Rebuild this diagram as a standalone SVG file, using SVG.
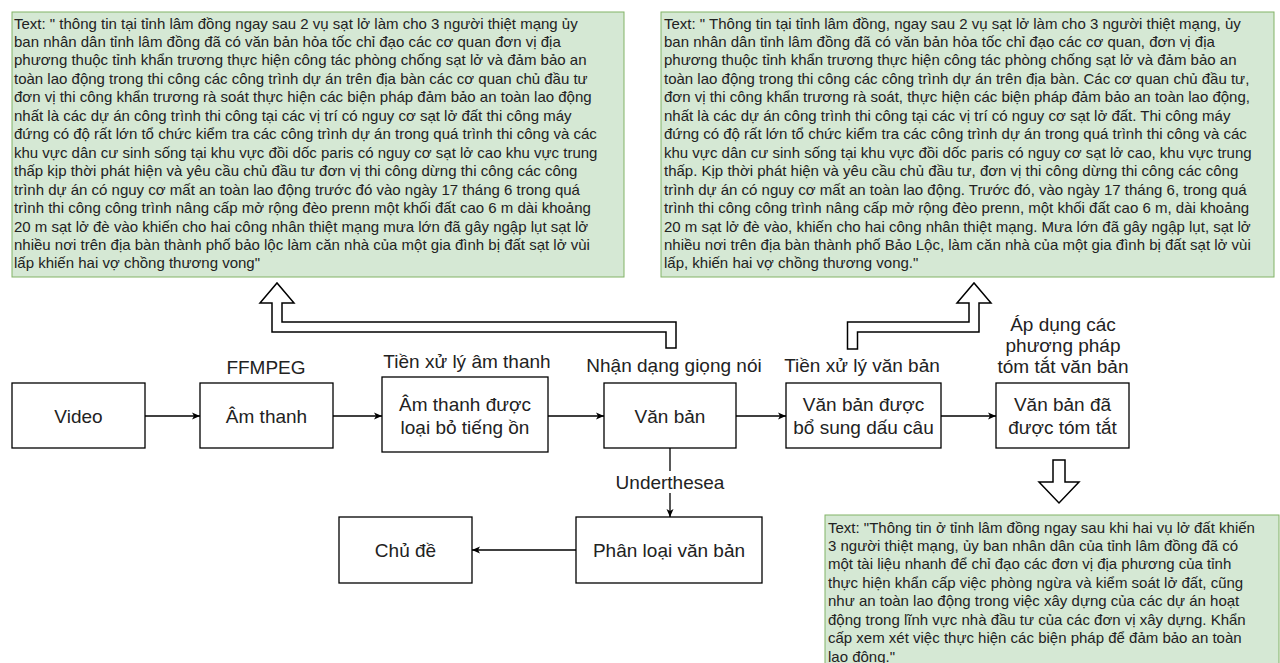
<svg xmlns="http://www.w3.org/2000/svg" width="1280" height="663" viewBox="0 0 1280 663">
<defs>
<style>
.bg{fill:#fff}
.tb{fill:#d5e8d4;stroke:#82b366;stroke-width:1}
.tt{font-family:"Liberation Sans",Arial,sans-serif;font-size:15px;fill:#222}
.nd{fill:#fff;stroke:#000;stroke-width:1.3}
.nt{font-family:"Liberation Sans",Arial,sans-serif;font-size:19px;fill:#222;text-anchor:middle}
.hol{fill:#fff;stroke:#000;stroke-width:1.5;stroke-linejoin:miter}
.edge{stroke:#000;stroke-width:1.3;fill:none;marker-end:url(#ah)}
</style>
<marker id="ah" markerUnits="userSpaceOnUse" markerWidth="10" markerHeight="10" viewBox="0 0 10 10" refX="9" refY="5" orient="auto">
<path d="M1,1.5 L9,5 L1,8.5 L3,5 z" fill="#000"/>
</marker>
</defs>
<rect class="bg" x="0" y="0" width="1280" height="663"/>

<g id="text-raw">
<rect class="tb" x="12" y="12" width="612" height="265"/>
<text class="tt">
<tspan x="14" y="28.5">Text: " thông tin tại tỉnh lâm đồng ngay sau 2 vụ sạt lở làm cho 3 người thiệt mạng ủy</tspan>
<tspan x="14" y="47">ban nhân dân tỉnh lâm đồng đã có văn bản hỏa tốc chỉ đạo các cơ quan đơn vị địa</tspan>
<tspan x="14" y="65.4">phương thuộc tỉnh khẩn trương thực hiện công tác phòng chống sạt lở và đảm bảo an</tspan>
<tspan x="14" y="83.9">toàn lao động trong thi công các công trình dự án trên địa bàn các cơ quan chủ đầu tư</tspan>
<tspan x="14" y="102.3">đơn vị thi công khẩn trương rà soát thực hiện các biện pháp đảm bảo an toàn lao động</tspan>
<tspan x="14" y="120.8">nhất là các dự án công trình thi công tại các vị trí có nguy cơ sạt lở đất thi công máy</tspan>
<tspan x="14" y="139.2">đứng có độ rất lớn tổ chức kiểm tra các công trình dự án trong quá trình thi công và các</tspan>
<tspan x="14" y="157.7">khu vực dân cư sinh sống tại khu vực đồi dốc paris có nguy cơ sạt lở cao khu vực trung</tspan>
<tspan x="14" y="176.1">thấp kịp thời phát hiện và yêu cầu chủ đầu tư đơn vị thi công dừng thi công các công</tspan>
<tspan x="14" y="194.6">trình dự án có nguy cơ mất an toàn lao động trước đó vào ngày 17 tháng 6 trong quá</tspan>
<tspan x="14" y="213">trình thi công công trình nâng cấp mở rộng đèo prenn một khối đất cao 6 m dài khoảng</tspan>
<tspan x="14" y="231.5">20 m sạt lở đè vào khiến cho hai công nhân thiệt mạng mưa lớn đã gây ngập lụt sạt lở</tspan>
<tspan x="14" y="249.9">nhiều nơi trên địa bàn thành phố bảo lộc làm căn nhà của một gia đình bị đất sạt lở vùi</tspan>
<tspan x="14" y="268.4">lấp khiến hai vợ chồng thương vong"</tspan>
</text>
</g>

<g id="text-punct">
<rect class="tb" x="661" y="12" width="613" height="265"/>
<text class="tt">
<tspan x="664" y="28.5">Text: " Thông tin tại tỉnh lâm đồng, ngay sau 2 vụ sạt lở làm cho 3 người thiệt mạng, ủy</tspan>
<tspan x="664" y="47">ban nhân dân tỉnh lâm đồng đã có văn bản hỏa tốc chỉ đạo các cơ quan, đơn vị địa</tspan>
<tspan x="664" y="65.4">phương thuộc tỉnh khẩn trương thực hiện công tác phòng chống sạt lở và đảm bảo an</tspan>
<tspan x="664" y="83.9">toàn lao động trong thi công các công trình dự án trên địa bàn. Các cơ quan chủ đầu tư,</tspan>
<tspan x="664" y="102.3">đơn vị thi công khẩn trương rà soát, thực hiện các biện pháp đảm bảo an toàn lao động,</tspan>
<tspan x="664" y="120.8">nhất là các dự án công trình thi công tại các vị trí có nguy cơ sạt lở đất. Thi công máy</tspan>
<tspan x="664" y="139.2">đứng có độ rất lớn tổ chức kiểm tra các công trình dự án trong quá trình thi công và các</tspan>
<tspan x="664" y="157.7">khu vực dân cư sinh sống tại khu vực đồi dốc paris có nguy cơ sạt lở cao, khu vực trung</tspan>
<tspan x="664" y="176.1">thấp. Kịp thời phát hiện và yêu cầu chủ đầu tư, đơn vị thi công dừng thi công các công</tspan>
<tspan x="664" y="194.6">trình dự án có nguy cơ mất an toàn lao động. Trước đó, vào ngày 17 tháng 6, trong quá</tspan>
<tspan x="664" y="213">trình thi công công trình nâng cấp mở rộng đèo prenn, một khối đất cao 6 m, dài khoảng</tspan>
<tspan x="664" y="231.5">20 m sạt lở đè vào, khiến cho hai công nhân thiệt mạng. Mưa lớn đã gây ngập lụt, sạt lở</tspan>
<tspan x="664" y="249.9">nhiều nơi trên địa bàn thành phố Bảo Lộc, làm căn nhà của một gia đình bị đất sạt lở vùi</tspan>
<tspan x="664" y="268.4">lấp, khiến hai vợ chồng thương vong."</tspan>
</text>
</g>

<g id="text-summary">
<rect class="tb" x="825" y="515" width="454" height="160"/>
<text class="tt">
<tspan x="828" y="532.5">Text: "Thông tin ở tỉnh lâm đồng ngay sau khi hai vụ lở đất khiến</tspan>
<tspan x="828" y="551">3 người thiệt mạng, ủy ban nhân dân của tỉnh lâm đồng đã có</tspan>
<tspan x="828" y="569.4">một tài liệu nhanh để chỉ đạo các đơn vị địa phương của tỉnh</tspan>
<tspan x="828" y="587.9">thực hiện khẩn cấp việc phòng ngừa và kiểm soát lở đất, cũng</tspan>
<tspan x="828" y="606.3">như an toàn lao động trong việc xây dựng của các dự án hoạt</tspan>
<tspan x="828" y="624.8">động trong lĩnh vực nhà đầu tư của các đơn vị xây dựng. Khẩn</tspan>
<tspan x="828" y="643.2">cấp xem xét việc thực hiện các biện pháp để đảm bảo an toàn</tspan>
<tspan x="828" y="661.7">lao động."</tspan>
</text>
</g>

<g id="connectors">
<polygon class="hol" points="666,348 666,332 272,332 272,303 260,303 277,283 294,303 282,303 282,322 676,322 676,348"/>
<polygon class="hol" points="847.5,349 847.5,322 969,322 969,303 957,303 974,283 991,303 979,303 979,332 857.5,332 857.5,349"/>
<polygon class="hol" points="1053,460 1053,482 1039,482 1059,503 1079,482 1065,482 1065,460"/>
<line class="edge" x1="145" y1="416" x2="200" y2="416"/>
<line class="edge" x1="333" y1="416" x2="382" y2="416"/>
<line class="edge" x1="548" y1="416" x2="604" y2="416"/>
<line class="edge" x1="736" y1="416" x2="786" y2="416"/>
<line class="edge" x1="941" y1="416" x2="996" y2="416"/>
<line class="edge" x1="670" y1="448" x2="670" y2="517"/>
<line class="edge" x1="576" y1="550" x2="472" y2="550"/>
<rect x="618" y="471" width="106" height="22" fill="#fff"/>
<text class="nt" x="670" y="489">Underthesea</text>
<text class="nt" x="266" y="374">FFMPEG</text>
<text class="nt" x="467" y="368">Tiền xử lý âm thanh</text>
<text class="nt" x="674" y="372">Nhận dạng giọng nói</text>
<text class="nt" x="862" y="372">Tiền xử lý văn bản</text>
<text class="nt" x="1063" y="331">Áp dụng các</text>
<text class="nt" x="1063" y="352">phương pháp</text>
<text class="nt" x="1063" y="373">tóm tắt văn bản</text>
</g>

<g id="node-video">
<rect class="nd" x="12" y="383" width="133" height="65"/>
<text class="nt" x="78.5" y="423">Video</text>
</g>
<g id="node-audio">
<rect class="nd" x="200" y="383" width="133" height="65"/>
<text class="nt" x="266.5" y="423">Âm thanh</text>
</g>
<g id="node-denoised">
<rect class="nd" x="382" y="377" width="166" height="75"/>
<text class="nt" x="465" y="411">Âm thanh được</text>
<text class="nt" x="465" y="434">loại bỏ tiếng ồn</text>
</g>
<g id="node-text">
<rect class="nd" x="604" y="383" width="132" height="65"/>
<text class="nt" x="670" y="423">Văn bản</text>
</g>
<g id="node-punct">
<rect class="nd" x="786" y="383" width="155" height="65"/>
<text class="nt" x="863.5" y="411">Văn bản được</text>
<text class="nt" x="863.5" y="434">bổ sung dấu câu</text>
</g>
<g id="node-summary">
<rect class="nd" x="996" y="383" width="133" height="65"/>
<text class="nt" x="1062.5" y="411">Văn bản đã</text>
<text class="nt" x="1062.5" y="434">được tóm tắt</text>
</g>
<g id="node-classify">
<rect class="nd" x="576" y="517" width="186" height="66"/>
<text class="nt" x="669" y="557">Phân loại văn bản</text>
</g>
<g id="node-topic">
<rect class="nd" x="339" y="517" width="133" height="66"/>
<text class="nt" x="405.5" y="557">Chủ đề</text>
</g>
</svg>
